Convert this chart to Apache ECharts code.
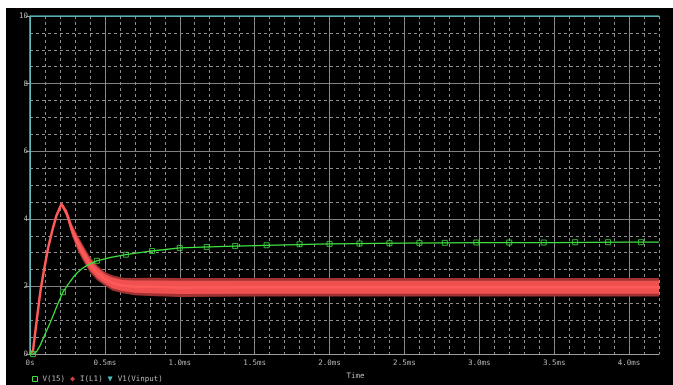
<!DOCTYPE html>
<html><head><meta charset="utf-8">
<script src="https://cdn.jsdelivr.net/npm/echarts@6/dist/echarts.min.js"></script>
<style>html,body{margin:0;padding:0;background:#fff;width:673px;height:385px;overflow:hidden}
#c{position:absolute;left:6px;top:8px;width:667px;height:377px;}</style></head>
<body><div id="c"></div><script>
// Time in ms
const tI = [0, 0.02, 0.047, 0.07, 0.093, 0.12, 0.147, 0.175, 0.21, 0.245, 0.28, 0.32, 0.355, 0.40, 0.45, 0.50, 0.55, 0.62, 0.70, 0.80, 1.0, 1.5, 2.0, 2.5, 3.0, 3.5, 4.0, 4.2];
const iUpper = [0.05, 0.15, 1.15, 1.95, 2.55, 3.2, 3.7, 4.15, 4.5, 4.28, 3.85, 3.5, 3.22, 2.88, 2.62, 2.43, 2.33, 2.26, 2.25, 2.26, 2.25, 2.25, 2.25, 2.25, 2.25, 2.25, 2.25, 2.25];
const iLower = [0, 0.05, 1.0, 1.8, 2.4, 3.05, 3.55, 4.0, 4.38, 4.05, 3.5, 3.05, 2.75, 2.42, 2.18, 2.02, 1.88, 1.8, 1.74, 1.72, 1.69, 1.7, 1.7, 1.7, 1.7, 1.7, 1.7, 1.7];

const tV = [0, 0.02, 0.045, 0.067, 0.087, 0.11, 0.134, 0.16, 0.18, 0.2, 0.22, 0.245, 0.267, 0.29, 0.314, 0.35, 0.387, 0.447, 0.54, 0.64, 0.815, 1.0, 1.25, 1.5, 2.0, 2.5, 3.0, 3.5, 4.0, 4.2];
const vOut = [0, 0, 0.08, 0.25, 0.45, 0.68, 0.92, 1.2, 1.42, 1.63, 1.83, 2.0, 2.14, 2.28, 2.4, 2.54, 2.64, 2.76, 2.86, 2.94, 3.05, 3.14, 3.18, 3.21, 3.26, 3.28, 3.3, 3.3, 3.31, 3.31];

const vMarkT = [0.02, 0.22, 0.447, 0.64, 0.815, 1.0, 1.18, 1.37, 1.58, 1.8, 2.0, 2.2, 2.4, 2.6, 2.77, 2.98, 3.2, 3.43, 3.64, 3.86, 4.08];
const vMarkV = [0, 1.83, 2.76, 2.94, 3.05, 3.14, 3.17, 3.2, 3.22, 3.25, 3.26, 3.27, 3.28, 3.29, 3.29, 3.3, 3.3, 3.3, 3.31, 3.31, 3.31];

const tIn = [0, 0, 4.2];
const vIn = [0, 10, 10];

const seriesNames = ['V(15)', 'I(L1)', 'V1(Vinput)'];

const chart = echarts.init(document.getElementById('c'), null, {renderer: 'canvas'});
const F = '"DejaVu Sans Mono", monospace';
const TXT = '#b8b8b8';
const GREEN = '#3fe03f', RED = '#ff5a5a', CYAN = '#52c0c0';

const mid = tI.map((t, i) => [t, (iUpper[i] + iLower[i]) / 2]);

function bandSeries(name, fracLo, fracHi, color, z) {
  return {
    name: name, type: 'custom', silent: true, z: z, data: [[0, 0]],
    renderItem: (params, api) => {
      const pts = [];
      for (let i = 0; i < tI.length; i++) {
        const w = iUpper[i] - iLower[i];
        pts.push(api.coord([tI[i], iLower[i] + fracHi * w]));
      }
      for (let i = tI.length - 1; i >= 0; i--) {
        const w = iUpper[i] - iLower[i];
        pts.push(api.coord([tI[i], iLower[i] + fracLo * w]));
      }
      return {type: 'polygon', shape: {points: pts}, style: {fill: color}};
    }
  };
}

const option = {
  backgroundColor: '#000',
  animation: false,
  grid: {left: 24, top: 8, right: 14, bottom: 25},
  legend: {
    left: 26, top: 367, padding: 0, itemWidth: 5, itemHeight: 5, itemGap: 5,
    textStyle: {color: TXT, fontFamily: F, fontSize: 7.5},
    data: [
      {name: seriesNames[0], icon: 'rect', itemStyle: {color: 'rgba(0,0,0,0)', borderColor: GREEN, borderWidth: 1}},
      {name: seriesNames[1], icon: 'diamond', itemStyle: {color: '#d04040'}},
      {name: seriesNames[2], icon: 'path://M0,0 L10,0 L5,10 Z', itemStyle: {color: CYAN}}
    ]
  },
  xAxis: [{
    type: 'value', min: 0, max: 4.2, interval: 0.5,
    name: 'Time', nameLocation: 'middle', nameGap: 16,
    nameTextStyle: {color: TXT, fontFamily: F, fontSize: 7.5, padding: [0, 0, 0, 22]},
    axisLine: {show: true, lineStyle: {color: '#9a9a9a'}},
    axisTick: {show: false},
    axisLabel: {
      color: TXT, fontFamily: F, fontSize: 7.5, margin: 5, showMaxLabel: false,
      formatter: v => {
        if (Math.abs(v * 2 - Math.round(v * 2)) > 1e-6) return '';
        return v === 0 ? '0s' : v.toFixed(1) + 'ms';
      }
    },
    splitLine: {show: true, showMaxLine: false, lineStyle: {color: '#808080', width: 1}}
  }, {
    type: 'value', min: 0, max: 4.2, interval: 0.1, position: 'bottom',
    axisLine: {show: false}, axisTick: {show: false}, axisLabel: {show: false},
    splitLine: {show: true, lineStyle: {color: '#8e8e8e', type: [3, 3], width: 1}}
  }],
  yAxis: {
    type: 'value', min: 0, max: 10, interval: 2,
    axisLine: {show: true, lineStyle: {color: '#9a9a9a'}},
    axisTick: {show: true, length: 4, lineStyle: {color: '#9a9a9a'}},
    axisLabel: {color: TXT, fontFamily: F, fontSize: 7.5, margin: 2},
    splitLine: {show: true, lineStyle: {color: '#808080', width: 1}},
    minorTick: {show: false, splitNumber: 4},
    minorSplitLine: {show: true, lineStyle: {color: '#8e8e8e', type: [3, 3], width: 1}}
  },
  series: [
    {
      name: seriesNames[2], type: 'line', data: tIn.map((t, i) => [t, vIn[i]]),
      showSymbol: false, symbol: 'none', lineStyle: {color: CYAN, width: 1.5}, itemStyle: {color: CYAN}, z: 2
    },
    bandSeries('bandOuter', 0, 1, '#a03232', 3),
    bandSeries('bandInner', 0.15, 0.85, '#f05050', 4),
    {
      name: seriesNames[1], type: 'line', data: mid, showSymbol: false, symbol: 'none',
      lineStyle: {color: RED, width: 2.5}, itemStyle: {color: RED}, z: 5
    },
    {
      name: seriesNames[0], type: 'line', data: tV.map((t, i) => [t, vOut[i]]),
      showSymbol: false, symbol: 'none',
      lineStyle: {color: GREEN, width: 1.3}, itemStyle: {color: GREEN}, z: 6
    },
    {
      name: 'V(15) markers', type: 'scatter', data: vMarkT.map((t, i) => [t, vMarkV[i]]),
      symbol: 'rect', symbolSize: 5,
      itemStyle: {color: 'rgba(0,0,0,0)', borderColor: GREEN, borderWidth: 1}, z: 7
    }
  ]
};
chart.setOption(option);
</script></body></html>
